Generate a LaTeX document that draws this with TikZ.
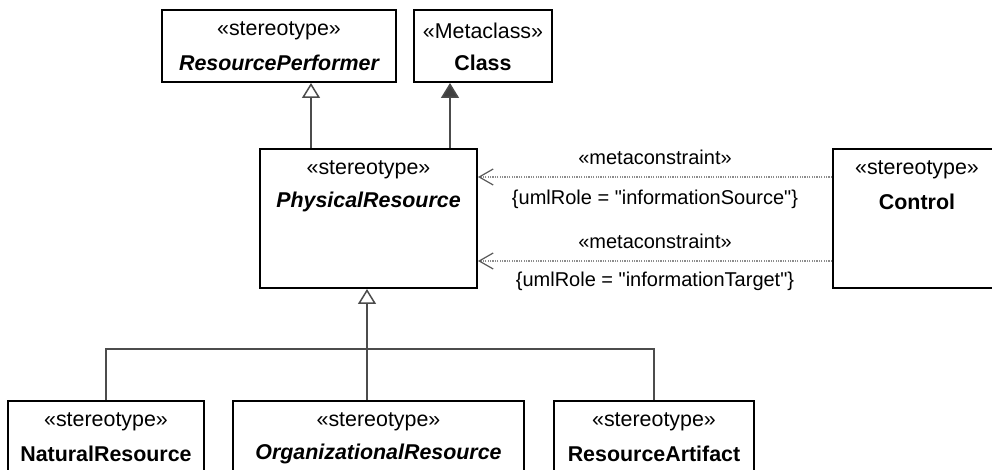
\documentclass[tikz,border=0pt]{standalone}
\usepackage{fontspec}
\setmainfont{Liberation Sans}
\usetikzlibrary{arrows.meta,positioning}

\tikzset{
  umlbox/.style={draw, line width=1pt, inner sep=0pt},
  stereo/.style={font=\fontsize{10.7}{12}\selectfont, inner sep=1pt},
  clsname/.style={font=\fontsize{10.7}{12}\selectfont\bfseries, inner sep=1pt},
  absname/.style={font=\fontsize{10.7}{12}\selectfont\bfseries\itshape, inner sep=1pt},
  cons/.style={font=\fontsize{10}{12}\selectfont, inner sep=0pt},
  gen/.style={draw=black!70, line width=0.75pt,
    -{Triangle[open,length=7.5pt,width=9pt,fill=white]}},
  ext/.style={draw=black!70, line width=0.75pt,
    -{Triangle[length=7.5pt,width=9pt,fill=black!75]}},
  meta/.style={draw=black!45, line width=0.6pt, dash pattern=on 0.6pt off 0.6pt,
    -{Straight Barb[length=7pt,width=8pt,line width=0.6pt,color=black!65]}},
  tree/.style={draw=black!70, line width=0.75pt}
}

\begin{document}
\begin{tikzpicture}[x=0.5pt,y=-0.5pt,line join=miter]
  \useasboundingbox (0,0) rectangle (992,470);

  % classes
  \node[umlbox, minimum width=117pt, minimum height=36pt] (rp) at (279,46) {};
  \node[umlbox, minimum width=69pt, minimum height=36pt] (cls) at (483,46) {};
  \node[umlbox, minimum width=108.5pt, minimum height=69.5pt] (pr) at (368.5,218.5) {};
  \node[umlbox, minimum width=84pt, minimum height=69.5pt] (ctrl) at (917,218.5) {};
  \node[umlbox, minimum width=98pt, minimum height=36pt] (nr) at (106,437) {};
  \node[umlbox, minimum width=145.5pt, minimum height=36pt] (or) at (378.5,437) {};
  \node[umlbox, minimum width=100pt, minimum height=36pt] (ra) at (654,437) {};

  % class texts
  \node[stereo] (rpS) at ([yshift=-11pt]rp.north) {«stereotype»};
  \node[absname] (rpN) at ([yshift=-27pt]rp.north) {ResourcePerformer};
  \node[stereo] (clsS) at ([yshift=-11pt]cls.north) {«Metaclass»};
  \node[clsname] (clsN) at ([yshift=-27pt]cls.north) {Class};
  \node[stereo] (prS) at ([yshift=-11pt]pr.north) {«stereotype»};
  \node[absname] (prN) at ([yshift=-27pt]pr.north) {PhysicalResource};
  \node[stereo] (ctrlS) at ([yshift=-11pt]ctrl.north) {«stereotype»};
  \node[clsname] (ctrlN) at ([yshift=-27pt]ctrl.north) {Control};
  \node[stereo] (nrS) at ([yshift=-11pt]nr.north) {«stereotype»};
  \node[clsname] (nrN) at ([yshift=-27pt]nr.north) {NaturalResource};
  \node[stereo] (orS) at ([yshift=-11pt]or.north) {«stereotype»};
  \node[absname] (orN) at ([yshift=-27pt]or.north) {OrganizationalResource};
  \node[stereo] (raS) at ([yshift=-11pt]ra.north) {«stereotype»};
  \node[clsname] (raN) at ([yshift=-27pt]ra.north) {ResourceArtifact};

  % generalization / extension upwards
  \coordinate (rpArr) at (311,0);
  \coordinate (clsArr) at (450,0);
  \draw[gen] (pr.north -| rpArr) -- (rp.south -| rpArr);
  \draw[ext] (pr.north -| clsArr) -- (cls.south -| clsArr);

  % metaconstraints
  \coordinate (srcY) at (0,177);
  \coordinate (tgtY) at (0,261);
  \draw[meta] (ctrl.west |- srcY) --
    node[cons, above=6pt] (mc1) {«metaconstraint»}
    node[cons, below=6pt] (role1) {\{umlRole = \textquotedbl informationSource\textquotedbl\}}
    (pr.east |- srcY);
  \draw[meta] (ctrl.west |- tgtY) --
    node[cons, above=6pt] (mc2) {«metaconstraint»}
    node[cons, below=5pt] (role2) {\{umlRole = \textquotedbl informationTarget\textquotedbl\}}
    (pr.east |- tgtY);

  % generalization tree
  \coordinate (bus) at (367,349);
  \draw[gen] (or.north -| bus) -- (pr.south -| bus);
  \draw[tree] (nr.north) |- (bus) -| (ra.north);
\end{tikzpicture}
\end{document}
